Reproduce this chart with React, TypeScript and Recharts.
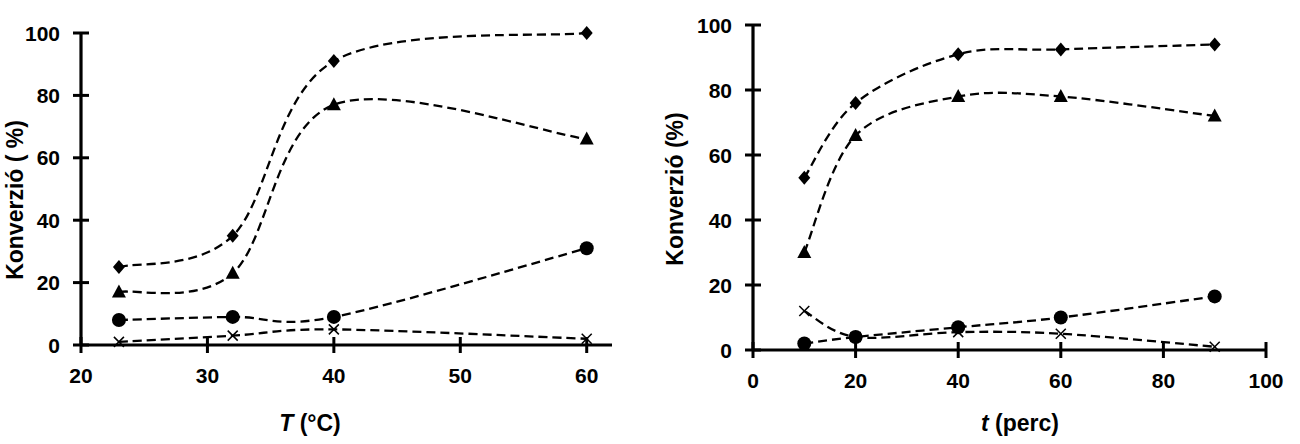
import React from 'react';
import { LineChart, Line, XAxis, YAxis } from 'recharts';

// ---- Data: temperature series (left chart) ----
const T_VALUES = [23, 32, 40, 60];
const T_DIAMOND = [25, 35, 91, 100];
const T_TRIANGLE = [17, 23, 77, 66];
const T_CIRCLE = [8, 9, 9, 31];
const T_CROSS = [1, 3, 5, 2];
const T_TICKS = [20, 30, 40, 50, 60];

// ---- Data: time series (right chart) ----
const TIME_VALUES = [10, 20, 40, 60, 90];
const TIME_DIAMOND = [53, 76, 91, 92.5, 94];
const TIME_TRIANGLE = [30, 66, 78, 78, 72];
const TIME_CIRCLE = [2, 4, 7, 10, 16.5];
const TIME_CROSS = [12, 4, 5.5, 5, 1];
const TIME_TICKS = [0, 20, 40, 60, 80, 100];

const Y_TICKS = [0, 20, 40, 60, 80, 100];

const FONT = '"Liberation Sans", Arial, sans-serif';

const tData = T_VALUES.map((x, i) => ({
  x,
  diamond: T_DIAMOND[i],
  triangle: T_TRIANGLE[i],
  circle: T_CIRCLE[i],
  cross: T_CROSS[i],
}));
const timeData = TIME_VALUES.map((x, i) => ({
  x,
  diamond: TIME_DIAMOND[i],
  triangle: TIME_TRIANGLE[i],
  circle: TIME_CIRCLE[i],
  cross: TIME_CROSS[i],
}));

// Excel-like smoothed line (Catmull-Rom bezier)
const smoothCurve = (context: any) => {
  let xs: number[] = [];
  let ys: number[] = [];
  return {
    areaStart() {},
    areaEnd() {},
    lineStart() {
      xs = [];
      ys = [];
    },
    lineEnd() {
      const n = xs.length;
      if (n === 0) return;
      context.moveTo(xs[0], ys[0]);
      if (n === 1) return;
      if (n === 2) {
        context.lineTo(xs[1], ys[1]);
        return;
      }
      for (let i = 0; i < n - 1; i++) {
        const i0 = Math.max(0, i - 1);
        const i3 = Math.min(n - 1, i + 2);
        const c1x = xs[i] + (xs[i + 1] - xs[i0]) / 6;
        const c1y = ys[i] + (ys[i + 1] - ys[i0]) / 6;
        const c2x = xs[i + 1] - (xs[i3] - xs[i]) / 6;
        const c2y = ys[i + 1] - (ys[i3] - ys[i]) / 6;
        context.bezierCurveTo(c1x, c1y, c2x, c2y, xs[i + 1], ys[i + 1]);
      }
    },
    point(x: number, y: number) {
      xs.push(+x);
      ys.push(+y);
    },
  };
};

const DiamondDot = (p: any) => {
  const { cx, cy, index } = p;
  return (
    <path
      key={`d${index}`}
      d={`M${cx},${cy - 7}L${cx + 6},${cy}L${cx},${cy + 7}L${cx - 6},${cy}Z`}
      fill="#000"
    />
  );
};
const TriangleDot = (p: any) => {
  const { cx, cy, index } = p;
  return (
    <path
      key={`t${index}`}
      d={`M${cx},${cy - 7.5}L${cx + 7},${cy + 5.5}L${cx - 7},${cy + 5.5}Z`}
      fill="#000"
    />
  );
};
const CircleDot = (p: any) => {
  const { cx, cy, index } = p;
  return <circle key={`c${index}`} cx={cx} cy={cy} r={7} fill="#000" />;
};
const CrossDot = (p: any) => {
  const { cx, cy, index } = p;
  return (
    <g key={`x${index}`}>
      <line x1={cx - 5} y1={cy - 5} x2={cx + 5} y2={cy + 5} stroke="#000" strokeWidth={1.5} />
      <line x1={cx - 5} y1={cy + 5} x2={cx + 5} y2={cy - 5} stroke="#000" strokeWidth={1.5} />
    </g>
  );
};

const XTick = (p: any) => {
  const { x, y, payload } = p;
  return (
    <g>
      <line x1={x} x2={x} y1={y - 8} y2={y + 8} stroke="#000" strokeWidth={3} />
      <text
        x={x}
        y={y + 30}
        textAnchor="middle"
        dominantBaseline="central"
        fontFamily={FONT}
        fontWeight="bold"
        fontSize={21}
        fill="#000"
      >
        {payload.value}
      </text>
    </g>
  );
};

const YTick = (p: any) => {
  const { x, y, payload } = p;
  return (
    <g>
      <line x1={x - 8} x2={x + 8} y1={y} y2={y} stroke="#000" strokeWidth={3} />
      <text
        x={x - 21}
        y={y}
        textAnchor="end"
        dominantBaseline="central"
        fontFamily={FONT}
        fontWeight="bold"
        fontSize={21}
        fill="#000"
      >
        {payload.value}
      </text>
    </g>
  );
};

const lineProps = {
  stroke: '#000',
  strokeWidth: 2.3,
  strokeDasharray: '9 5',
  isAnimationActive: false,
  activeDot: false as const,
  type: smoothCurve as any,
};

type ChartProps = {
  data: any[];
  domain: [number, number];
  ticks: number[];
  margin: { top: number; left: number; right: number; bottom: number };
  xTitle: React.ReactNode;
  xTitleX: number;
  yTitle: string;
  yTitleX: number;
  yTitleY: number;
};

const Chart = ({ data, domain, ticks, margin, xTitle, xTitleX, yTitle, yTitleX, yTitleY }: ChartProps) => (
  <LineChart width={650} height={444} data={data} margin={margin}>
    <XAxis
      dataKey="x"
      type="number"
      domain={domain}
      ticks={ticks}
      allowDataOverflow
      height={30}
      tickSize={0}
      tickMargin={0}
      tickLine={false}
      axisLine={{ stroke: '#000', strokeWidth: 3.2 }}
      tick={<XTick />}
      label={{
        content: () => (
          <text
            x={xTitleX}
            y={423}
            textAnchor="middle"
            dominantBaseline="central"
            fontFamily={FONT}
            fontWeight="bold"
            fontSize={23}
            fill="#000"
          >
            {xTitle}
          </text>
        ),
      }}
    />
    <YAxis
      type="number"
      domain={[0, 100]}
      ticks={Y_TICKS}
      width={60}
      tickSize={0}
      tickMargin={0}
      tickLine={false}
      axisLine={{ stroke: '#000', strokeWidth: 3.2 }}
      tick={<YTick />}
      label={{
        content: () => (
          <text
            x={yTitleX}
            y={yTitleY}
            textAnchor="middle"
            dominantBaseline="central"
            transform={`rotate(-90 ${yTitleX} ${yTitleY})`}
            fontFamily={FONT}
            fontWeight="bold"
            fontSize={23}
            fill="#000"
          >
            {yTitle}
          </text>
        ),
      }}
    />
    <Line dataKey="diamond" {...lineProps} dot={DiamondDot} />
    <Line dataKey="triangle" {...lineProps} dot={TriangleDot} />
    <Line dataKey="circle" {...lineProps} dot={CircleDot} />
    <Line dataKey="cross" {...lineProps} dot={CrossDot} />
  </LineChart>
);

export default function App() {
  return (
    <div
      style={{
        position: 'absolute',
        left: 0,
        top: 0,
        width: 1300,
        height: 444,
        background: '#fff',
        overflow: 'hidden',
      }}
    >
      <div style={{ position: 'absolute', left: 0, top: 0 }}>
        <Chart
          data={tData}
          domain={[20, 62]}
          ticks={T_TICKS}
          margin={{ top: 33, left: 21, right: 38, bottom: 69 }}
          xTitle={
            <>
              <tspan fontStyle="italic">T</tspan>
              <tspan> (°C)</tspan>
            </>
          }
          xTitleX={310}
          yTitle="Konverzió ( %)"
          yTitleX={15}
          yTitleY={200}
        />
      </div>
      <div style={{ position: 'absolute', left: 650, top: 0 }}>
        <Chart
          data={timeData}
          domain={[0, 100]}
          ticks={TIME_TICKS}
          margin={{ top: 25, left: 43, right: 34, bottom: 64 }}
          xTitle={
            <>
              <tspan fontStyle="italic">t</tspan>
              <tspan> (perc)</tspan>
            </>
          }
          xTitleX={370}
          yTitle="Konverzió (%)"
          yTitleX={25}
          yTitleY={189}
        />
      </div>
    </div>
  );
}
